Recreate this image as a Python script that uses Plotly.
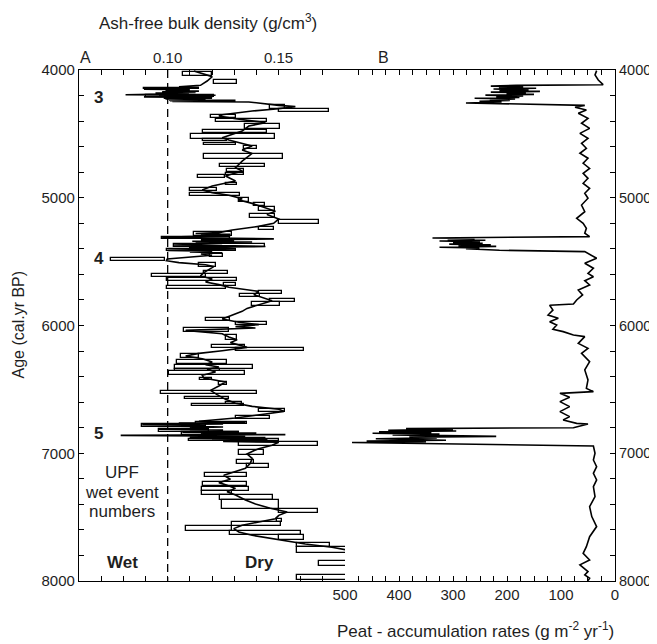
import plotly.graph_objects as go

# ---------------- Panel A: ash-free bulk density (g/cm3), line ----------------
dens_age_1 = [4008, 4052, 4086, 4120]
dens_val_1 = [0.1118, 0.1201, 0.1178, 0.1148]
# wet event 3
dens_age_e3 = [4131, 4138, 4145, 4150, 4155, 4160, 4165, 4170, 4175, 4180, 4185, 4190, 4194, 4198,
               4202, 4206, 4210, 4214, 4218, 4222, 4226, 4230, 4234, 4238, 4241, 4244, 4247, 4250]
dens_val_e3 = [0.1051, 0.1141, 0.1000, 0.0893, 0.1100, 0.0990, 0.1141, 0.0975, 0.1126, 0.0945,
               0.1096, 0.0990, 0.0810, 0.1216, 0.0961, 0.1110, 0.0893, 0.1201, 0.0990, 0.1150,
               0.0990, 0.1171, 0.1006, 0.1306, 0.1010, 0.1250, 0.1021, 0.1366]
dens_age_2 = [4277, 4287, 4303, 4321, 4350, 4360, 4381, 4412, 4439, 4478, 4530, 4548, 4595, 4626,
              4653, 4713, 4765, 4791, 4830, 4869, 4908, 4940, 4960, 4981, 5007, 5018, 5044, 5088,
              5106, 5132, 5166, 5200, 5224, 5252, 5273]
dens_val_2 = [0.1501, 0.1576, 0.1501, 0.1381, 0.1246, 0.1231, 0.1306, 0.1441, 0.1366, 0.1336,
              0.1246, 0.1276, 0.1381, 0.1336, 0.1381, 0.1336, 0.1306, 0.1336, 0.1261, 0.1306,
              0.1201, 0.1156, 0.1201, 0.1276, 0.1336, 0.1321, 0.1381, 0.1463, 0.1486, 0.1448,
              0.1501, 0.1478, 0.1411, 0.1291, 0.1231]
# wet event 4
dens_age_e4 = [5280, 5286, 5292, 5298, 5304, 5310, 5316, 5322, 5328, 5334, 5340, 5346, 5352, 5358,
               5364, 5370, 5376, 5382, 5388, 5394, 5400, 5406, 5412, 5418, 5424, 5430, 5440, 5450,
               5461, 5479, 5493]
dens_val_e4 = [0.1126, 0.1283, 0.1150, 0.1283, 0.1100, 0.0975, 0.1200, 0.1479, 0.1150, 0.1300,
               0.1111, 0.1381, 0.1126, 0.1246, 0.1150, 0.1028, 0.1300, 0.1441, 0.1096, 0.1200,
               0.1306, 0.1150, 0.0998, 0.1201, 0.1100, 0.1246, 0.1150, 0.1200, 0.1126, 0.0998,
               0.0994]
dens_age_3 = [5508, 5524, 5539, 5586, 5612, 5636, 5659, 5680, 5701, 5733, 5759, 5806, 5832, 5866,
              5889, 5915, 5949, 5975, 5993, 6009, 6020, 6038, 6064, 6090, 6111, 6134, 6171, 6197,
              6218, 6239, 6260, 6286, 6307, 6325, 6343, 6364, 6390, 6411, 6442, 6474, 6508, 6541,
              6578, 6609, 6633, 6656, 6672, 6693, 6724]
dens_val_3 = [0.1051, 0.1171, 0.1208, 0.1163, 0.1148, 0.1201, 0.1171, 0.1231, 0.1276, 0.1411,
              0.1389, 0.1471, 0.1419, 0.1358, 0.1336, 0.1298, 0.1246, 0.1321, 0.1411, 0.1306,
              0.1396, 0.1081, 0.1246, 0.1276, 0.1313, 0.1283, 0.1358, 0.1246, 0.1141, 0.1081,
              0.1156, 0.1201, 0.1171, 0.1231, 0.1178, 0.1216, 0.1156, 0.1163, 0.1261, 0.1231,
              0.1193, 0.1223, 0.1261, 0.1306, 0.1381, 0.1501, 0.1524, 0.1441, 0.1306]
# wet event 5
dens_age_e5 = [6750, 6758, 6764, 6770, 6776, 6782, 6788, 6794, 6800, 6806, 6812, 6818, 6824, 6830,
               6836, 6842, 6848, 6854, 6860, 6866, 6872, 6878, 6884, 6890, 6896, 6902, 6908, 6914,
               6938]
dens_val_e5 = [0.1141, 0.1351, 0.1050, 0.1250, 0.0885, 0.1171, 0.1051, 0.1250, 0.1100, 0.1186,
               0.0960, 0.1250, 0.1100, 0.1321, 0.1066, 0.1400, 0.1150, 0.1531, 0.0788, 0.1350,
               0.1100, 0.1441, 0.1096, 0.1450, 0.1200, 0.1501, 0.1250, 0.1501, 0.1471]
dens_age_4 = [6964, 6980, 7006, 7040, 7079, 7118, 7144, 7173, 7204, 7230, 7251, 7275, 7301, 7327,
              7366, 7397, 7431, 7460, 7486, 7512, 7538, 7564, 7590, 7616, 7642, 7674, 7710, 7736,
              7752, 7770]
dens_val_4 = [0.1411, 0.1388, 0.1358, 0.1381, 0.1373, 0.1351, 0.1306, 0.1253, 0.1283, 0.1231,
              0.1268, 0.1306, 0.1268, 0.1306, 0.1351, 0.1396, 0.1463, 0.1539, 0.1501, 0.1486,
              0.1411, 0.1336, 0.1298, 0.1321, 0.1381, 0.1501, 0.1621, 0.1741, 0.1801, 0.1850]

# individual sample boxes (age interval and density range)
box_age_top = [4013, 4079, 4141, 4199, 4217, 4277, 4303, 4350, 4381, 4426, 4473, 4504, 4543, 4569,
               4595, 4660, 4733, 4778, 4804, 4825, 4882, 4921, 4960, 5002, 5044, 5075, 5127, 5174,
               5232, 5271, 5305, 5362, 5401, 5440, 5474, 5513, 5576, 5597, 5628, 5670, 5691, 5727,
               5753, 5795, 5819, 5941, 5975, 6020, 6077, 6150, 6176, 6221, 6273, 6307, 6338, 6359,
               6411, 6442, 6515, 6560, 6599, 6615, 6656, 6708, 6755, 6774, 6808, 6834, 6886, 6912,
               6977, 7053, 7084, 7152, 7222, 7262, 7293, 7327, 7366, 7434, 7512, 7538, 7569, 7606,
               7640, 7700, 7736, 7843, 7953]
box_age_bot = [4047, 4112, 4152, 4212, 4227, 4303, 4329, 4376, 4404, 4460, 4496, 4538, 4559, 4590,
               4621, 4700, 4760, 4796, 4825, 4848, 4903, 4947, 4987, 5036, 5062, 5106, 5159, 5206,
               5252, 5297, 5323, 5383, 5419, 5466, 5495, 5539, 5597, 5618, 5649, 5691, 5712, 5753,
               5779, 5819, 5845, 5962, 5996, 6051, 6116, 6176, 6202, 6254, 6299, 6338, 6359, 6385,
               6429, 6468, 6534, 6578, 6615, 6633, 6677, 6734, 6774, 6797, 6834, 6860, 6907, 6946,
               7016, 7084, 7118, 7189, 7256, 7293, 7327, 7366, 7434, 7470, 7538, 7569, 7606, 7640,
               7679, 7731, 7783, 7882, 7992]
box_lo = [0.1068, 0.1208, 0.0893, 0.0900, 0.0990, 0.1463, 0.1501, 0.1196, 0.1216, 0.1351, 0.1159,
          0.1103, 0.1159, 0.1163, 0.1343, 0.1165, 0.1238, 0.1268, 0.1261, 0.1138, 0.1261, 0.1100,
          0.1100, 0.1321, 0.1388, 0.1411, 0.1373, 0.1501, 0.1411, 0.1118, 0.0975, 0.1028, 0.0998,
          0.1193, 0.0746, 0.1141, 0.1163, 0.0930, 0.0998, 0.1253, 0.0998, 0.1411, 0.1328, 0.1463,
          0.1381, 0.1171, 0.1306, 0.1073, 0.1261, 0.1201, 0.1306, 0.1058, 0.1043, 0.1032, 0.1035,
          0.1008, 0.1148, 0.1231, 0.0972, 0.1077, 0.1261, 0.1111, 0.1411, 0.1306, 0.1126, 0.0885,
          0.0960, 0.1066, 0.1096, 0.1321, 0.1321, 0.1313, 0.1358, 0.1168, 0.1159, 0.1156, 0.1153,
          0.1238, 0.1243, 0.1501, 0.1494, 0.1291, 0.1083, 0.1283, 0.1501, 0.1583, 0.1583, 0.1684,
          0.1583]
box_hi = [0.1201, 0.1313, 0.1141, 0.1208, 0.1201, 0.1531, 0.1729, 0.1306, 0.1448, 0.1508, 0.1448,
          0.1486, 0.1268, 0.1306, 0.1403, 0.1519, 0.1441, 0.1343, 0.1346, 0.1258, 0.1313, 0.1223,
          0.1328, 0.1366, 0.1441, 0.1486, 0.1486, 0.1684, 0.1478, 0.1291, 0.1283, 0.1441, 0.1306,
          0.1249, 0.0990, 0.1216, 0.1271, 0.1171, 0.1313, 0.1306, 0.1261, 0.1516, 0.1418, 0.1576,
          0.1508, 0.1283, 0.1448, 0.1276, 0.1313, 0.1351, 0.1615, 0.1141, 0.1268, 0.1384, 0.1238,
          0.1348, 0.1201, 0.1268, 0.1403, 0.1276, 0.1336, 0.1343, 0.1531, 0.1463, 0.1358, 0.1171,
          0.1186, 0.1321, 0.1501, 0.1678, 0.1433, 0.1388, 0.1459, 0.1358, 0.1358, 0.1369, 0.1291,
          0.1474, 0.1501, 0.1677, 0.1516, 0.1513, 0.1291, 0.1603, 0.1613, 0.1734, 0.1850, 0.1850,
          0.1850]

wet_dry_threshold = 0.10

# UPF wet events
event_labels = ["3", "4", "5"]
event_ages = [4219, 5479, 6842]

# ---------------- Panel B: peat-accumulation rates (g m-2 yr-1) ----------------
par_age_1 = [4005, 4039, 4078, 4115]
par_rate_1 = [34, 37, 31, 22]
par_age_e3 = [4120, 4126, 4131, 4137, 4143, 4149, 4155, 4161, 4167, 4173, 4179, 4185, 4191, 4197,
              4203, 4209, 4215, 4221, 4227, 4233, 4239, 4245, 4251, 4258]
par_rate_e3 = [183, 230, 170, 215, 146, 225, 160, 214, 139, 230, 165, 201, 150, 240,
               170, 220, 177, 260, 185, 232, 195, 251, 210, 276]
par_age_2 = [4277, 4292, 4313, 4339, 4378, 4417, 4457, 4496, 4535, 4574, 4613, 4652, 4691, 4730,
             4770, 4809, 4848, 4887, 4926, 4965, 5004, 5057, 5109, 5161, 5200, 5239, 5278, 5304]
par_rate_2 = [56, 74, 53, 68, 50, 62, 47, 65, 50, 62, 53, 65, 50, 59,
              47, 59, 50, 59, 47, 56, 50, 62, 56, 71, 59, 53, 56, 47]
par_age_e4 = [5315, 5321, 5327, 5333, 5339, 5345, 5351, 5357, 5363, 5369, 5375, 5381, 5387, 5393,
              5399, 5405, 5411]
par_rate_e4 = [338, 260, 310, 240, 325, 250, 300, 245, 307, 230, 290, 220, 325, 251,
               276, 230, 214]
par_age_3 = [5422, 5474, 5513, 5552, 5592, 5618, 5649, 5683, 5722, 5761, 5800, 5832, 5842, 5879,
             5918, 5944, 5970, 5996, 6030, 6048, 6074, 6087, 6140, 6179, 6218, 6283, 6348, 6426,
             6492, 6518, 6531, 6562, 6596, 6635, 6674, 6713, 6740, 6766, 6771, 6800]
par_rate_3 = [56, 34, 56, 40, 50, 40, 56, 47, 68, 60, 71, 77, 121, 115,
              124, 105, 121, 108, 115, 96, 77, 56, 68, 50, 62, 47, 56, 50,
              53, 40, 102, 84, 102, 84, 102, 84, 96, 71, 50, 77]
par_age_e5 = [6807, 6813, 6820, 6826, 6832, 6838, 6844, 6850, 6856, 6862, 6868, 6874, 6880, 6886,
              6892, 6898, 6904, 6910, 6916, 6922]
par_rate_e5 = [387, 300, 420, 294, 437, 340, 449, 325, 412, 300, 220, 381, 330, 443,
               360, 313, 460, 350, 487, 363]
par_age_4 = [6943, 7000, 7053, 7105, 7157, 7209, 7261, 7340, 7418, 7496, 7574, 7653, 7731, 7783,
             7835, 7874, 7927, 7953, 7979, 7997]
par_rate_4 = [40, 37, 40, 34, 40, 34, 40, 37, 47, 43, 34, 47, 53, 59,
              47, 65, 50, 56, 47, 50]

density_age = dens_age_1 + dens_age_e3 + dens_age_2 + dens_age_e4 + dens_age_3 + dens_age_e5 + dens_age_4
density_val = dens_val_1 + dens_val_e3 + dens_val_2 + dens_val_e4 + dens_val_3 + dens_val_e5 + dens_val_4
par_age = par_age_1 + par_age_e3 + par_age_2 + par_age_e4 + par_age_3 + par_age_e5 + par_age_4
par_rate = par_rate_1 + par_rate_e3 + par_rate_2 + par_rate_e4 + par_rate_3 + par_rate_e5 + par_rate_4

FONT = "Liberation Sans, Arial, Helvetica, sans-serif"
TXT = "#1e1e1e"

box_mid = [(a + b) / 2 for a, b in zip(box_age_top, box_age_bot)]
box_span = [b - a for a, b in zip(box_age_top, box_age_bot)]
box_len = [h - l for l, h in zip(box_lo, box_hi)]

fig = go.Figure()
fig.add_trace(go.Bar(
    orientation="h", y=box_mid, x=box_len, base=box_lo, width=box_span,
    marker=dict(color="white", line=dict(color="black", width=1.3)),
    xaxis="x", yaxis="y", showlegend=False, hoverinfo="skip"))
fig.add_trace(go.Scatter(
    x=density_val, y=density_age, mode="lines",
    line=dict(color="black", width=1.6), xaxis="x", yaxis="y", showlegend=False))
fig.add_trace(go.Scatter(
    x=par_rate, y=par_age, mode="lines",
    line=dict(color="black", width=1.6), xaxis="x2", yaxis="y2", showlegend=False))

fig.add_shape(type="line", xref="x", yref="y", x0=wet_dry_threshold, x1=wet_dry_threshold,
              y0=4000, y1=8000, line=dict(color="black", width=1.3, dash="8px,5px"), layer="above")

common = dict(showline=True, linecolor="black", linewidth=1.2, ticks="inside", ticklen=5,
              tickcolor="black", tickwidth=1.1, showgrid=False, zeroline=False, automargin=False)
tickfont_main = dict(family=FONT, size=15, color=TXT)
tickfont_right = dict(family=FONT, size=14.5, color=TXT)
minor_style = dict(ticks="inside", ticklen=5, tickcolor="black", tickwidth=1.1)

# the page body adds an 8 px offset; size/margins compensate so the plot area
# lands at x 79-615, y 70-581 in the 657x644 window
fig.update_layout(
    width=649, height=636,
    margin=dict(l=71, r=42, t=62, b=63, autoexpand=False),
    paper_bgcolor="white", plot_bgcolor="white",
    barmode="overlay", bargap=0,
    font=dict(family=FONT, color=TXT),
    xaxis=dict(domain=[0, 0.4963], range=[0.06, 0.18], side="top", anchor="y",
               tick0=0, dtick=0.05, tickformat=".2f", mirror="ticks", tickfont=tickfont_main,
               minor=dict(tick0=0.06, dtick=0.01, **minor_style), **common),
    xaxis2=dict(domain=[0.4963, 1], range=[500, 0], side="bottom", anchor="y2",
                tick0=0, dtick=100, mirror="ticks", tickfont=tickfont_main,
                minor=dict(tick0=0, dtick=25, **minor_style), **common),
    yaxis=dict(range=[8000, 4000], anchor="x", side="left", tick0=4000, dtick=1000,
               tickfont=tickfont_main,
               minor=dict(tick0=4000, dtick=200, **minor_style), **common),
    yaxis2=dict(range=[8000, 4000], anchor="x2", overlaying="y", side="right",
                tick0=4000, dtick=1000, tickfont=tickfont_right,
                minor=dict(tick0=4000, dtick=200, **minor_style), **common),
)

def px_x(px):
    return (px - 79) / 536.0

def px_y(py):
    return (581 - py) / 511.0

ann = []
ann.append(dict(text="Ash-free bulk density (g/cm<sup>3</sup>)", x=px_x(208), y=px_y(22),
                font=dict(size=17)))
ann.append(dict(text="A", x=px_x(85), y=px_y(57), font=dict(size=16)))
ann.append(dict(text="B", x=px_x(383), y=px_y(57), font=dict(size=16)))
ann.append(dict(text="Age (cal.yr BP)", x=px_x(17.5), y=px_y(325), textangle=-90,
                font=dict(size=16)))
ann.append(dict(text="Peat - accumulation rates (g m<sup>-2</sup> yr<sup>-1</sup>)",
                x=px_x(476), y=px_y(630), font=dict(size=17)))
for t, py in zip(["UPF", "wet event", "numbers"], [472, 492, 511]):
    ann.append(dict(text=t, x=px_x(122), y=px_y(py), font=dict(size=17)))
ann.append(dict(text="<b>Wet</b>", x=px_x(122), y=px_y(562), font=dict(size=17)))
ann.append(dict(text="<b>Dry</b>", x=px_x(259), y=px_y(562), font=dict(size=17)))
for a in ann:
    a.update(xref="paper", yref="paper", showarrow=False, xanchor="center", yanchor="middle")
    a["font"].update(family=FONT, color=TXT)
for lab, age in zip(event_labels, event_ages):
    ann.append(dict(text="<b>" + lab + "</b>", x=0.0688, y=age, xref="x", yref="y",
                    showarrow=False, xanchor="center", yanchor="middle",
                    font=dict(family=FONT, size=17, color=TXT)))
fig.update_layout(annotations=ann)

fig.write_html("out.html")
